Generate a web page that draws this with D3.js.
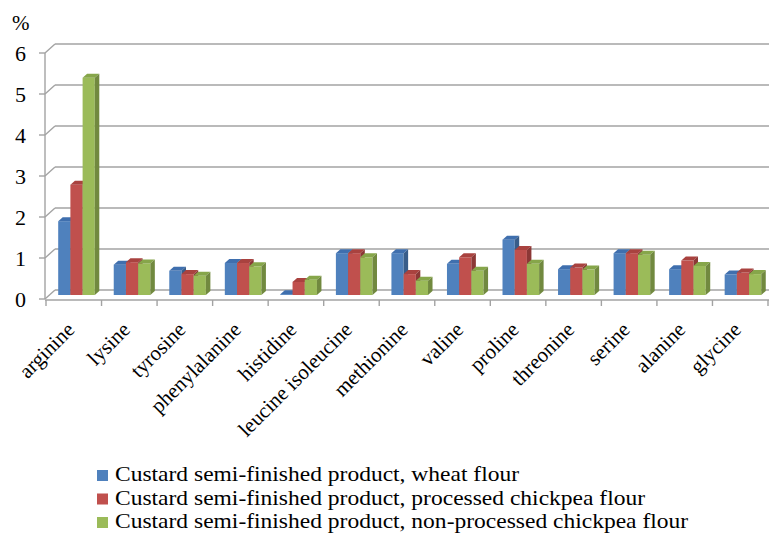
<!DOCTYPE html>
<html>
<head>
<meta charset="utf-8">
<script src="https://cdn.jsdelivr.net/npm/d3@7"></script>
<style>
  body { margin: 0; background: #fff; }
</style>
</head>
<body>
<svg id="chart"></svg>
<script>
// amino acid categories
const categories = ["arginine", "lysine", "tyrosine", "phenylalanine", "histidine",
    "leucine isoleucine", "methionine", "valine", "proline", "threonine",
    "serine", "alanine", "glycine"];

const seriesNames = [
    "Custard semi-finished product, wheat flour",
    "Custard semi-finished product, processed chickpea flour",
    "Custard semi-finished product, non-processed chickpea flour"
];

// values (%)
const wheatFlour     = [1.80, 0.74, 0.59, 0.78, 0.02, 1.02, 1.02, 0.76, 1.35, 0.63, 1.02, 0.63, 0.50];
const processedPea   = [2.69, 0.80, 0.51, 0.78, 0.32, 1.02, 0.51, 0.92, 1.10, 0.67, 1.02, 0.84, 0.55];
const unprocessedPea = [5.30, 0.77, 0.47, 0.70, 0.37, 0.92, 0.35, 0.59, 0.76, 0.62, 0.98, 0.71, 0.51];

const yTicks = [0, 1, 2, 3, 4, 5, 6];

const series = [wheatFlour, processedPea, unprocessedPea];
const colors = [
    { front: "#4f81bd", top: "#3f6fae", side: "#385d8a" },
    { front: "#c0504d", top: "#a9423f", side: "#8c3836" },
    { front: "#9bbb59", top: "#86a64a", side: "#71893f" }
];

const serif = "'Liberation Serif', 'Times New Roman', 'DejaVu Serif', serif";

const width = 769, height = 533;
const svg = d3.select("#chart")
    .attr("width", width)
    .attr("height", height)
    .attr("font-family", serif);

// front plane of the 3d box
const left = 45, right = 768;
const xScale = d3.scaleBand().domain(categories).range([46, right]).padding(0);
const yScale = d3.scaleLinear().domain([0, 6]).range([299, 53]);

// depth of the floor / walls
const wallDx = 10, wallDy = -9;
// bars sit part way into the box
const barDx = 4.5, barDy = -4;
const barW = 12.2, barOffset = 12.2;

const grid = svg.append("g").attr("stroke", "#a3a3a3").attr("stroke-width", 1.4).attr("fill", "none");

// back wall gridlines + diagonal on the side wall + small ticks
yTicks.forEach(v => {
    let y = yScale(v);
    grid.append("line").attr("x1", left + wallDx).attr("x2", width).attr("y1", y + wallDy).attr("y2", y + wallDy);
    grid.append("line").attr("x1", left).attr("x2", left + wallDx).attr("y1", y).attr("y2", y + wallDy);
    grid.append("line").attr("x1", left - 6).attr("x2", left).attr("y1", y).attr("y2", y);
});

// vertical axis line and front floor edge
grid.append("line").attr("x1", left).attr("x2", left).attr("y1", yScale(6)).attr("y2", yScale(0));
grid.append("line").attr("x1", left).attr("x2", width).attr("y1", yScale(0) + 1).attr("y2", yScale(0) + 1);

// category ticks on the front edge
categories.concat([null]).forEach((c, i) => {
    let x = 46 + i * xScale.bandwidth();
    grid.append("line").attr("x1", x).attr("x2", x).attr("y1", yScale(0) + 1).attr("y2", yScale(0) + 7);
});

// y axis labels
svg.append("g").selectAll("text")
    .data(yTicks)
    .join("text")
    .attr("x", 26)
    .attr("y", d => yScale(d) + 8)
    .attr("text-anchor", "end")
    .style("font-family", serif)
    .style("font-size", "22px")
    .text(d => d);

svg.append("text")
    .attr("x", 12)
    .attr("y", 30)
    .style("font-family", serif)
    .style("font-size", "21px")
    .text("%");

// 3d bars
const bars = svg.append("g");
categories.forEach((cat, ci) => {
    series.forEach((vals, si) => {
        let v = vals[ci];
        let x0 = xScale(cat) + barOffset + si * barW;
        let x1 = x0 + barW;
        let yb = yScale(0) + barDy;
        let yt = yScale(v) + barDy;
        let c = colors[si];

        // front face
        bars.append("rect")
            .attr("x", x0)
            .attr("y", yt)
            .attr("width", barW)
            .attr("height", Math.max(0, yb - yt))
            .attr("fill", c.front);

        // top face
        bars.append("path")
            .attr("d", `M${x0},${yt}L${x0 + barDx},${yt + barDy}L${x1 + barDx},${yt + barDy}L${x1},${yt}Z`)
            .attr("fill", c.top);

        // side face
        bars.append("path")
            .attr("d", `M${x1},${yt}L${x1 + barDx},${yt + barDy}L${x1 + barDx},${yb + barDy}L${x1},${yb}Z`)
            .attr("fill", c.side);
    });
});

// rotated category labels
svg.append("g").selectAll("text")
    .data(categories)
    .join("text")
    .attr("text-anchor", "end")
    .attr("transform", d => `translate(${xScale(d) + xScale.bandwidth() / 2 + 2},331) rotate(-45)`)
    .style("font-family", serif)
    .style("font-size", "21px")
    .text(d => d);

// legend
const legend = svg.append("g");
seriesNames.forEach((name, i) => {
    let y = 481 + i * 23.5;
    legend.append("rect")
        .attr("x", 97)
        .attr("y", y - 11)
        .attr("width", 11)
        .attr("height", 11)
        .attr("fill", colors[i].front);
    legend.append("text")
        .attr("transform", `translate(115,${y}) scale(1.12,1)`)
        .style("font-family", serif)
        .style("font-size", "21px")
        .text(name);
});
</script>
</body>
</html>
